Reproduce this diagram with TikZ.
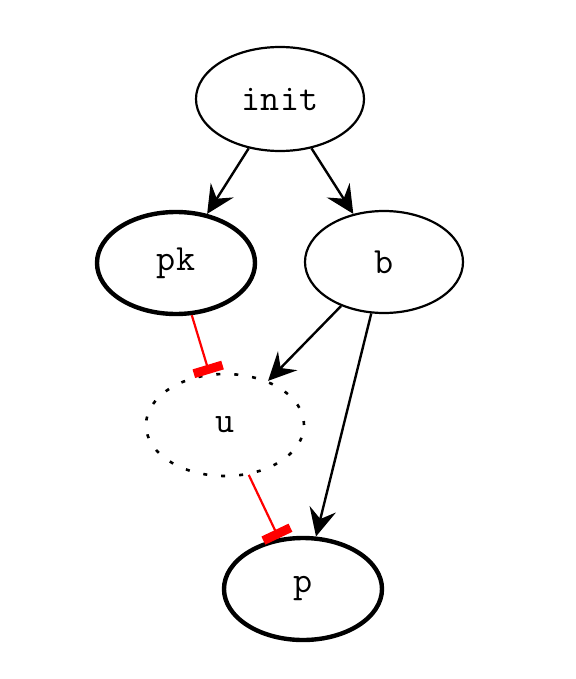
\documentclass[tikz,border=0pt]{standalone}
\usetikzlibrary{shapes.geometric,arrows.meta}
\begin{document}
\begin{tikzpicture}[x=1pt,y=-1pt,
  gnode/.style={ellipse,draw,line width=2.2pt,minimum width=158pt,minimum height=102pt,inner sep=0pt,
    font=\fontsize{37}{40}\selectfont\ttfamily},
  boldnode/.style={gnode,line width=4.4pt},
  dotnode/.style={gnode,line width=2.6pt,dash pattern=on 4pt off 14pt},
  act/.style={line width=2.4pt,-{Stealth[length=28pt,width=27pt,inset=10pt]}},
  inh/.style={line width=2.2pt,red,-{Rectangle[length=9pt,width=30pt]}}]
\useasboundingbox (0,0) rectangle (575,679);
\node[gnode,minimum width=168pt,minimum height=104pt] (init) at (280,99) {init};
\node[boldnode] (pk) at (176,263) {pk};
\node[gnode] (b) at (384,262) {b};
\node[dotnode] (u) at (225,425) {u};
\node[boldnode] (p) at (303,589) {p};
\draw[act] (init) -- (pk);
\draw[act] (init) -- (b);
\draw[inh] (pk) -- (u);
\draw[act] (b) -- (u);
\draw[act] (b) -- (p);
\draw[inh] (u) -- (p);
\end{tikzpicture}
\end{document}
